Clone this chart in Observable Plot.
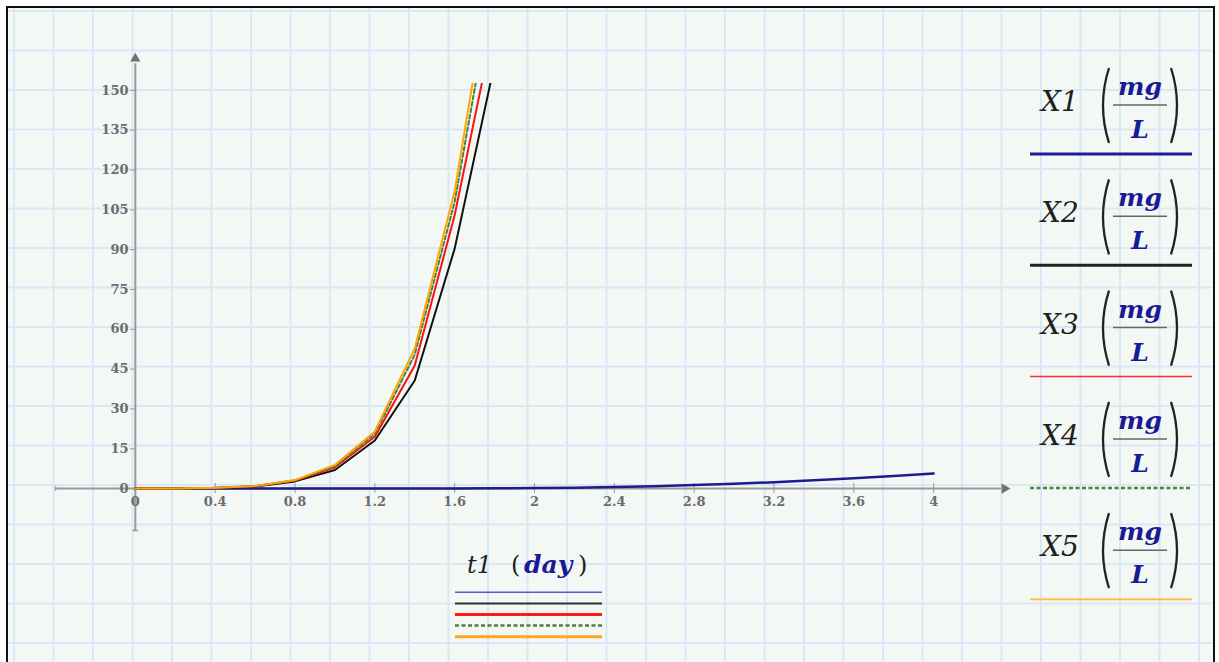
<!DOCTYPE html>
<html><head><meta charset="utf-8">
<script src="https://cdn.jsdelivr.net/npm/d3@7"></script>
<script src="https://cdn.jsdelivr.net/npm/@observablehq/plot@0.6"></script>
<style>
html,body{margin:0;padding:0;background:#fff;}
#wrap{position:relative;width:1219px;height:662px;overflow:hidden;background:#fff;}
#sheet{position:absolute;left:6px;top:6px;width:1205px;height:720px;border:2px solid #111;
  background-color:#f4f8f4;
  background-image:linear-gradient(to right,#d9e7f6 1.5px,transparent 1.5px),linear-gradient(to bottom,#d9e7f6 1.5px,transparent 1.5px);
  background-size:39.5px 39.5px;background-position:5px 2px;}
#chart{position:absolute;left:0;top:0;}
#legend{position:absolute;left:0;top:0;pointer-events:none;}
</style></head>
<body>
<div id="wrap"><div id="sheet"></div><div id="chart"></div><svg id="legend" width="1219" height="662"></svg></div>
<script>
// time (day)
const t = [0,0.2,0.4,0.6,0.8,1.0,1.2,1.4,1.6,1.8,2.0,2.2,2.4,2.6,2.8,3.0,3.2,3.4,3.6,3.8,4.0];
// concentrations (mg/L)
const X1 = [0,0,0,0,0,0.01,0.02,0.04,0.07,0.12,0.2,0.35,0.55,0.9,1.35,1.85,2.4,3.1,3.9,4.75,5.7];
const X2 = [0,0.02,0.2,0.8,2.7,7.0,18.1,40.7,90.4,160];
const X3 = [0,0.03,0.25,0.9,3.0,8.0,19.5,46.4,103,176];
const X4 = [0,0.03,0.28,0.95,3.1,8.5,20.5,50.5,108,193];
const X5 = [0,0.03,0.3,1.0,3.2,8.9,21.5,52.8,112,203];
const seriesNames = ["X1","X2","X3","X4","X5"];
const seriesValues = [X1,X2,X3,X4,X5];
const seriesColors = ["#1c1c8e","#111111","#ff1010","#4f7f3f","#ffa500"];
const seriesWidths = [2.5,2,2,2,2];
const seriesDash = [null,null,null,"4,2.5",null];
// axes
const xTicks = [0,0.4,0.8,1.2,1.6,2,2.4,2.8,3.2,3.6,4];
const yTicks = [0,15,30,45,60,75,90,105,120,135,150];
const xDomain = [-0.4,4.4];
const yDomain = [-15.8,152.6];
const xAxisExtent = [-0.4,4.34];
const yAxisExtent = [-15.8,160];
const xArrow = [{x:4.355,y:0}];
const yArrow = [{x:0,y:162}];
const xEnd = [{x:-0.4,y:0}];
const yEnd = [{x:0,y:-15.8}];
const axisColor = "#9a9a9a";
const labelColor = "#6c6c6c";

const vbar = {draw(ctx,size){const r=Math.sqrt(size/Math.PI);ctx.moveTo(0,-r);ctx.lineTo(0,r);}};
const hbar = {draw(ctx,size){const r=Math.sqrt(size/Math.PI);ctx.moveTo(-r,0);ctx.lineTo(r,0);}};

const lineMarks = seriesNames.map((n,k)=>Plot.line(
  seriesValues[k].map((v,i)=>({t:t[i],v})),
  {x:"t",y:"v",stroke:seriesColors[k],strokeWidth:seriesWidths[k],strokeDasharray:seriesDash[k],clip:true}));

const chart = Plot.plot({
  width:1219,height:662,
  marginLeft:55,marginRight:206,marginTop:83,marginBottom:132,
  x:{domain:xDomain},
  y:{domain:yDomain},
  style:{background:"transparent",overflow:"visible"},
  marks:[
    Plot.ruleY([0],{x1:xAxisExtent[0],x2:xAxisExtent[1],stroke:axisColor,strokeWidth:2}),
    Plot.ruleX([0],{y1:yAxisExtent[0],y2:yAxisExtent[1],stroke:axisColor,strokeWidth:2}),
    Plot.dot(xArrow,{x:"x",y:"y",symbol:"triangle",r:3.8,fill:"#707070",rotate:90}),
    Plot.dot(yArrow,{x:"x",y:"y",symbol:"triangle",r:3.8,fill:"#707070"}),
    Plot.dot(xEnd,{x:"x",y:"y",symbol:vbar,r:2.2,stroke:axisColor,strokeWidth:1.5}),
    Plot.dot(yEnd,{x:"x",y:"y",symbol:hbar,r:2.8,stroke:axisColor,strokeWidth:1.5}),
    Plot.axisX({ticks:xTicks,anchor:"bottom",tickSize:10,tickPadding:3,dy:-47,label:null,
      stroke:axisColor,fill:labelColor,fontSize:13,fontFamily:"DejaVu Serif",fontWeight:"bold",tickFormat:d=>String(d)}),
    Plot.axisY({ticks:yTicks,anchor:"left",tickSize:5,tickPadding:2,dx:80,label:null,
      stroke:axisColor,fill:labelColor,fontSize:13,fontFamily:"DejaVu Serif",fontWeight:"bold",tickFormat:d=>String(d)}),
    ...lineMarks
  ]
});
document.getElementById("chart").appendChild(chart);

// legends
const lg = d3.select("#legend");
const unitBlue = "#1a1a96";
const rightLineW = [3,3,1.5,2.5,2];
const rightLineC = ["#1c1c9a","#222222","#ff3030","#4f7f3f","#ffc050"];
seriesNames.forEach((n,i)=>{
  const U = 154 + i*111.3;
  lg.append("text").attr("x",1041).attr("y",U-43).attr("font-family","DejaVu Serif").attr("font-style","italic")
    .attr("font-size",28).attr("fill","#1e1e1e").text(n);
  lg.append("path").attr("d",`M1109,${U-86} Q1097,${U-48.5} 1109,${U-11}`).attr("fill","none").attr("stroke","#222").attr("stroke-width",2.3);
  lg.append("path").attr("d",`M1171,${U-86} Q1183,${U-48.5} 1171,${U-11}`).attr("fill","none").attr("stroke","#222").attr("stroke-width",2.3);
  lg.append("text").attr("x",1140).attr("y",U-59).attr("text-anchor","middle").attr("font-family","DejaVu Serif")
    .attr("font-style","italic").attr("font-weight","bold").attr("font-size",25).attr("fill",unitBlue).text("mg");
  lg.append("line").attr("x1",1113).attr("x2",1167).attr("y1",U-49).attr("y2",U-49).attr("stroke","#666").attr("stroke-width",1.5);
  lg.append("text").attr("x",1140).attr("y",U-16).attr("text-anchor","middle").attr("font-family","DejaVu Serif")
    .attr("font-style","italic").attr("font-weight","bold").attr("font-size",25).attr("fill",unitBlue).text("L");
  lg.append("line").attr("x1",1030).attr("x2",1192).attr("y1",U).attr("y2",U)
    .attr("stroke",rightLineC[i]).attr("stroke-width",rightLineW[i]).attr("stroke-dasharray",seriesDash[i]);
});
// bottom legend
const bt = lg.append("text").attr("y",573).attr("font-family","DejaVu Serif").attr("font-size",24).attr("fill","#1e1e1e");
bt.append("tspan").attr("x",467).attr("font-style","italic").text("t1");
bt.append("tspan").attr("x",511).text("(");
bt.append("tspan").attr("x",524).attr("font-style","italic").attr("font-weight","bold").attr("fill",unitBlue).attr("font-size",25).text("day");
bt.append("tspan").attr("x",578).text(")");
const botW = [1.5,2,3,2.5,3];
const botC = ["#5a5ac8","#333333","#ff1a1a","#4f7f3f","#ffa520"];
seriesNames.forEach((n,i)=>{
  const y = 592.3 + i*11.1;
  lg.append("line").attr("x1",455).attr("x2",602).attr("y1",y).attr("y2",y)
    .attr("stroke",botC[i]).attr("stroke-width",botW[i]).attr("stroke-dasharray",seriesDash[i]);
});
</script>
</body></html>
